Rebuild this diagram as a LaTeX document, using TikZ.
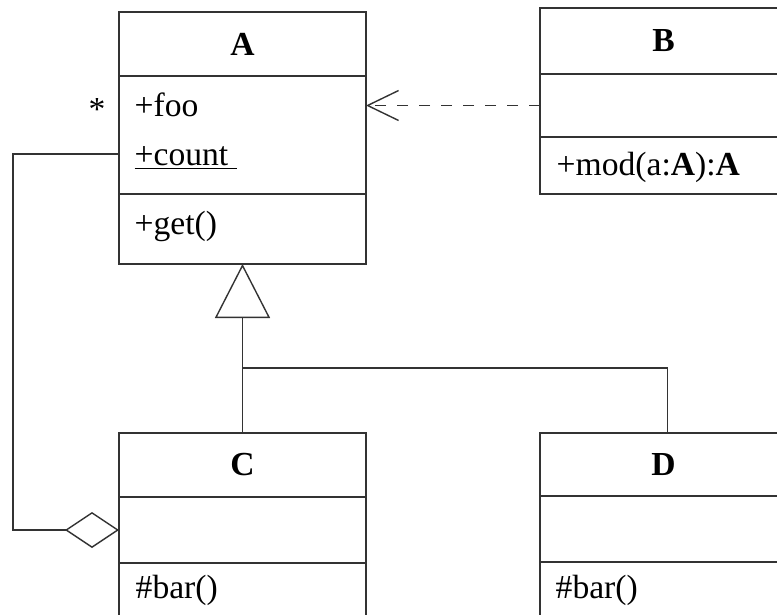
\documentclass[tikz,border=0pt]{standalone}
\usepackage{fontspec}
\setmainfont{Liberation Serif}
\usetikzlibrary{positioning,arrows.meta,calc}

\begin{document}
\begin{tikzpicture}[
  x=1pt, y=-1pt,
  font=\fontsize{33.6}{40}\selectfont,
  line width=1.4pt,
  section/.style={draw=black!80, minimum width=247pt, inner sep=0pt,
                  outer sep=0pt, anchor=north west},
  classname/.style={section, font=\fontsize{33.6}{40}\selectfont\bfseries},
  member/.style={anchor=base west, inner sep=0pt},
  depend/.style={-{Straight Barb[length=31pt,width=30pt]}, draw=black!80,
                 dash pattern=on 11pt off 11pt},
  inherit/.style={-{Triangle[open,length=54pt,width=55pt]}, draw=black!80},
  aggr/.style={{Diamond[open,length=54pt,width=36pt]}-, draw=black!80},
]
\useasboundingbox (0,0) rectangle (777,615);
\clip (0,0) rectangle (777,615);

% class A
\node[classname, minimum height=64pt] (Atitle) at (119,12) {A};
\node[section, minimum height=118pt] (Aattr) at (Atitle.south west) {};
\node[section, minimum height=70pt] (Aops) at (Aattr.south west) {};
\node[member] (foo) at (134,117) {+foo};
\node[member] (count) at (134,166) {\underline{+count~}};
\node[member] (get) at (134,234) {+get()};

% class B
\node[classname, minimum height=66pt] (Btitle) at (540,8) {B};
\node[section, minimum height=63pt] (Battr) at (Btitle.south west) {};
\node[section, minimum height=57pt] (Bops) at (Battr.south west) {};
\node[member] (mod) at (556,176) {+mod(a:\textbf{A}):\textbf{A}};

% class C
\node[classname, minimum height=64pt] (Ctitle) at (119,433) {C};
\node[section, minimum height=66pt] (Cattr) at (Ctitle.south west) {};
\node[section, minimum height=70pt] (Cops) at (Cattr.south west) {};
\node[member] (barC) at (135,598) {\#bar()};

% class D
\node[classname, minimum height=63pt] (Dtitle) at (540,433) {D};
\node[section, minimum height=66pt] (Dattr) at (Dtitle.south west) {};
\node[section, minimum height=70pt] (Dops) at (Dattr.south west) {};
\node[member] (barD) at (555,598) {\#bar()};

% relations
\draw[depend] (Battr.west) -- (Battr.west -| Aattr.east);
\draw[inherit] (Ctitle.north) -- (Aops.south);
\draw[draw=black!80] ([xshift=4pt]Dtitle.north) |- ([yshift=65pt]Ctitle.north);
\coordinate (aggA) at ($(Aattr.north west)+(0,78)$);
\draw[aggr] (Cattr.west) -| ([xshift=-106pt]aggA) -- (aggA);
\node[anchor=base east, inner sep=0pt] (mult) at (106,121) {*};
\end{tikzpicture}
\end{document}
